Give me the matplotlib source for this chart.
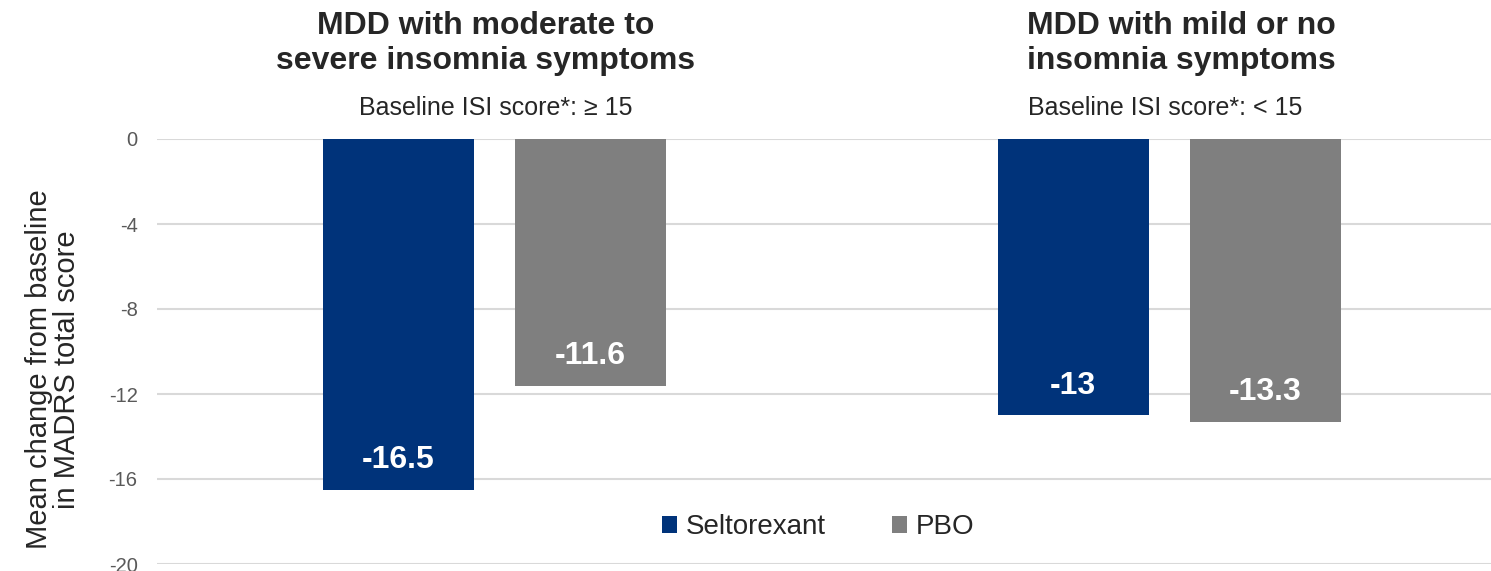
import numpy as np
import matplotlib
matplotlib.use("Agg")
import matplotlib.pyplot as plt

plt.rcParams["font.family"] = ["Liberation Sans", "DejaVu Sans"]

# data
groups = ["MDD with moderate to\nsevere insomnia symptoms", "MDD with mild or no\ninsomnia symptoms"]
subtitles = ["Baseline ISI score*: \u2265 15", "Baseline ISI score*: < 15"]
series = ["Seltorexant", "PBO"]
seltorexant = [-16.5, -13.0]
pbo = [-11.6, -13.3]
value_labels = [["-16.5", "-13"], ["-11.6", "-13.3"]]
yticks = [0, -4, -8, -12, -16, -20]

colors = ["#00337A", "#7F7F7F"]

W, H, dpi = 1491, 571, 100
fig = plt.figure(figsize=(W / dpi, H / dpi), dpi=dpi)
ax = fig.add_axes([157 / W, 1 - 564 / H, (W - 157) / W, (564 - 139) / H])

x = np.arange(len(groups))
offset = 0.1423
width = 0.224

for i, (vals, name) in enumerate(zip([seltorexant, pbo], series)):
    pos = x + (i * 2 - 1) * offset
    bars = ax.bar(pos, vals, width=width, color=colors[i], label=name, zorder=2)
    for b, lab in zip(bars, value_labels[i]):
        ax.annotate(lab, (b.get_x() + b.get_width() / 2, b.get_height()),
                    xytext=(0, 21), textcoords="offset points",
                    ha="center", va="center", color="white",
                    fontsize=23, fontweight="bold", zorder=3)

ax.set_xlim(-0.5004, 1.477)
ax.set_ylim(-20, 0)
ax.set_yticks(yticks)
ax.set_yticklabels([str(t) for t in yticks], color="#595959", fontsize=14.5)
ax.tick_params(axis="y", length=0, pad=14)
ax.set_xticks([])
ax.yaxis.grid(True, color="#D9D9D9", linewidth=1.5, zorder=0)
ax.set_axisbelow(True)
for s in ax.spines.values():
    s.set_visible(False)

ax.set_ylabel("Mean change from baseline\nin MADRS total score", fontsize=21,
              color="#262626", labelpad=20, linespacing=1.0)
ax.yaxis.label.set_y(0.458)

# group titles
fig.text(486 / W, 1 - 11 / H, groups[0], ha="center", va="top", fontsize=23,
         fontweight="bold", color="#262626", linespacing=1.2)
fig.text(496 / W, 1 - 96 / H, subtitles[0], ha="center", va="top", fontsize=18,
         color="#262626")
fig.text(1027 / W, 1 - 11 / H, groups[1], ha="left", va="top", fontsize=23,
         fontweight="bold", color="#262626", linespacing=1.2)
fig.text(1028 / W, 1 - 96 / H, subtitles[1], ha="left", va="top", fontsize=18,
         color="#262626")

ax.legend(loc="center", bbox_to_anchor=((818 - 157) / (W - 157), (564 - 527) / (564 - 139)),
          bbox_transform=ax.transAxes, ncol=2, frameon=False, fontsize=20,
          handlelength=0.55, handleheight=0.55, handletextpad=0.3, columnspacing=2.4,
          labelcolor="#262626")

fig.savefig("out.png", dpi=dpi, facecolor="white")
